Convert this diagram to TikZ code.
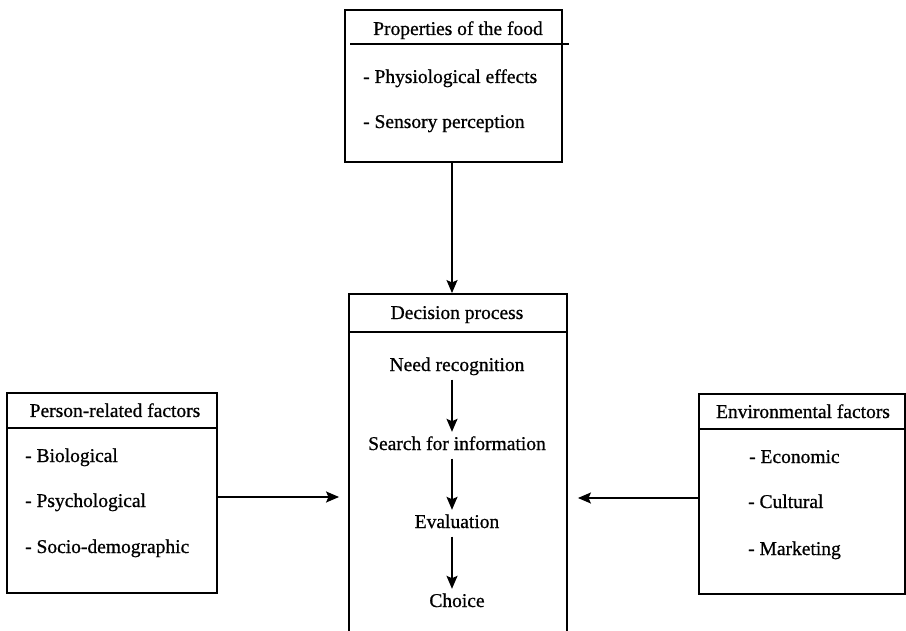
\documentclass[tikz,border=0pt]{standalone}
\usepackage{fontspec}
\setmainfont{Liberation Serif}[UprightFeatures={FakeBold=0.8}]
\usetikzlibrary{arrows.meta,calc}
\begin{document}
\begin{tikzpicture}[x=1pt,y=-1pt,
  frame/.style={draw,line width=1.9pt,inner sep=0pt},
  rule/.style={line width=1.9pt},
  label/.style={font=\fontsize{19.5}{23}\selectfont,inner sep=0pt},
  head/.style={label,anchor=base},
  item/.style={label,anchor=base west},
  stage/.style={label,anchor=base,text height=14pt,text depth=4.5pt,inner ysep=4pt},
  arr/.style={line width=1.9pt,-{Stealth[length=13pt,width=11pt,inset=2.5pt]}}]
\clip (0,0) rectangle (906,631);

% properties of the food
\node[frame,minimum width=217pt,minimum height=152pt] (food) at (453.5,86) {};
\draw[rule] (350,44) -- (569,44);
\node[head] (foodt) at (458,35) {Properties of the food};
\node[item] (food1) at (363,83) {- Physiological effects};
\node[item] (food2) at (363,128) {- Sensory perception};

% decision process (runs past the lower edge)
\node[frame,minimum width=218pt,minimum height=356pt] (dec) at (458,472) {};
\draw[rule] (dec.west |- 0,332) -- (dec.east |- 0,332);
\node[head] (dect) at (457,319) {Decision process};
\node[stage] (need) at (457,371) {Need recognition};
\node[stage] (search) at (457,450) {Search for information};
\node[stage] (eval) at (457,528) {Evaluation};
\node[stage] (choice) at (457,607) {Choice};
\draw[arr] ([xshift=-5pt]need.south) -- ([xshift=-5pt]need.south |- search.north);
\draw[arr] ([xshift=-5pt]search.south) -- ([xshift=-5pt]search.south |- eval.north);
\draw[arr] ([xshift=-5pt]eval.south) -- ([xshift=-5pt]eval.south |- choice.north);

% person-related factors
\node[frame,minimum width=210pt,minimum height=200pt] (pers) at (112,493) {};
\draw[rule] (pers.west |- 0,428) -- (pers.east |- 0,428);
\node[head] (perst) at (115,417) {Person-related factors};
\node[item] (pers1) at (25,462) {- Biological};
\node[item] (pers2) at (25,507) {- Psychological};
\node[item] (pers3) at (25,553) {- Socio-demographic};

% environmental factors
\node[frame,minimum width=206pt,minimum height=200pt] (env) at (802,494) {};
\draw[rule] (env.west |- 0,429) -- (env.east |- 0,429);
\node[head] (envt) at (803,418) {Environmental factors};
\node[item] (env1) at (749,463) {- Economic};
\node[item] (env2) at (748,508) {- Cultural};
\node[item] (env3) at (748,555) {- Marketing};

% influences on the decision process
\coordinate (decL) at ($(dec.west |- 0,497)+(-9,0)$);
\coordinate (decR) at ($(dec.east |- 0,498)+(10,0)$);
\draw[arr] (food.south -| 452,0) -- (dec.north -| 452,0);
\draw[arr] (pers.east |- 0,497) -- (decL);
\draw[arr] (env.west |- 0,498) -- (decR);
\end{tikzpicture}
\end{document}
